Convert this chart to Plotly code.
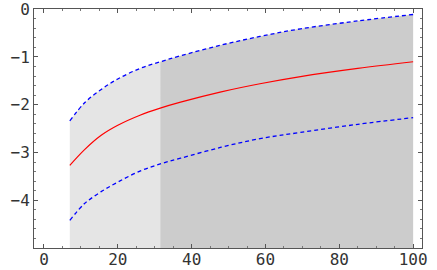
import plotly.graph_objects as go

# Data
x_vals = [7, 11, 15.5, 20, 26, 31.5, 37, 48, 58.5, 69.5, 85, 100]
center = [-3.27, -2.94, -2.64, -2.43, -2.22, -2.07, -1.945, -1.73, -1.56, -1.41, -1.24, -1.10]
upper = [-2.34, -1.96, -1.68, -1.46, -1.24, -1.10, -0.975, -0.75, -0.57, -0.41, -0.245, -0.11]
lower = [-4.42, -4.07, -3.82, -3.62, -3.39, -3.24, -3.12, -2.89, -2.71, -2.58, -2.41, -2.27]
split_x = 31.5
x_ticks = [0, 20, 40, 60, 80, 100]
y_ticks = [0, -1, -2, -3, -4]
x_range = [-2.7, 102.4]
y_range = [-5.0, 0.005]

k = x_vals.index(split_x)
fig = go.Figure()

def add_fill(xs, ys, color):
    fig.add_trace(go.Scatter(x=[xs[0], xs[-1]], y=[y_range[0], y_range[0]], mode="lines",
                             line=dict(width=0), hoverinfo="skip", showlegend=False))
    fig.add_trace(go.Scatter(x=xs, y=ys, mode="lines", line=dict(width=0, shape="spline"),
                             fill="tonexty", fillcolor=color, hoverinfo="skip", showlegend=False))

add_fill(x_vals[:k + 1], upper[:k + 1], "#e5e5e5")
add_fill(x_vals[k:], upper[k:], "#cccccc")

dash = "4px,3px"
fig.add_trace(go.Scatter(x=x_vals, y=upper, mode="lines",
                         line=dict(color="#0000ff", width=1.3, dash=dash, shape="spline"), showlegend=False))
fig.add_trace(go.Scatter(x=x_vals, y=lower, mode="lines",
                         line=dict(color="#0000ff", width=1.3, dash=dash, shape="spline"), showlegend=False))
fig.add_trace(go.Scatter(x=x_vals, y=center, mode="lines",
                         line=dict(color="#ff0000", width=1.2, shape="spline"), showlegend=False))

axis_common = dict(
    showgrid=False, zeroline=False, showline=True, linecolor="#555555", linewidth=1,
    mirror="allticks", ticks="inside", ticklen=4, tickcolor="#555555", tickwidth=1,
    automargin=False, ticklabeloverflow="allow",
    tickfont=dict(family="DejaVu Sans Mono", size=16, color="#333333"),
)
fig.update_xaxes(range=x_range, tickvals=x_ticks, ticktext=[str(v) for v in x_ticks],
                 minor=dict(dtick=5, ticks="inside", ticklen=2, tickcolor="#777777"),
                 ticklabelstandoff=-3,
                 **axis_common)
fig.update_yaxes(range=y_range, tickvals=y_ticks, ticktext=["0" if v == 0 else "\u2212" + str(-v) for v in y_ticks],
                 minor=dict(dtick=0.2, ticks="inside", ticklen=2, tickcolor="#777777"),
                 **axis_common)
fig.update_layout(width=437, height=270, margin=dict(l=34, r=15, t=9, b=22),
                  plot_bgcolor="white", paper_bgcolor="white")
fig.write_html("out.html", config={"displayModeBar": False},
               post_script="document.body.style.margin='0';document.body.style.overflow='hidden';")
